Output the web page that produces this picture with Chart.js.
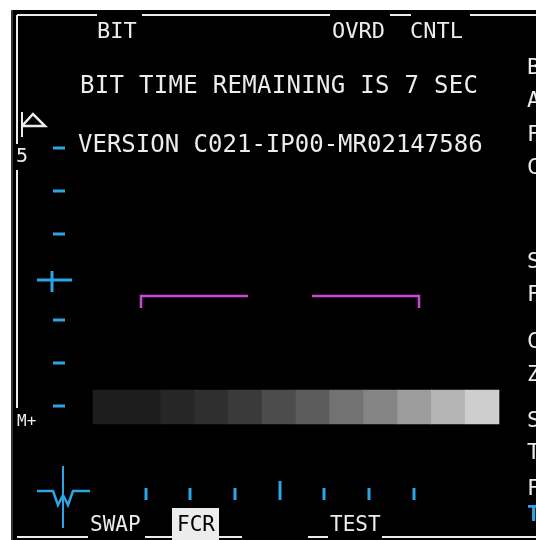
<!DOCTYPE html>
<html>
<head>
<meta charset="utf-8">
<script src="https://cdn.jsdelivr.net/npm/chart.js@4/dist/chart.umd.min.js"></script>
<style>
  html, body { margin: 0; padding: 0; background: #fff; }
  #wrap { width: 536px; height: 540px; }
</style>
</head>
<body>
<div id="wrap"><canvas id="mfd" width="536" height="540"></canvas></div>
<script>
// FCR BIT page of the MFD, in display units (x 0..536, y 0..540 downwards)
const topLabels = ["BIT", "OVRD", "CNTL"];
const topLabelX = [97, 332, 410];
const bottomLabels = ["SWAP", "FCR", "TEST"];
const bottomLabelX = [90, 177, 330];
const messages = ["BIT TIME REMAINING IS 7 SEC", "VERSION C021-IP00-MR02147586"];
const messageX = [80, 78];
const messageY = [87, 146];
const rightLetters = ["B", "A", "F", "C", "S", "F", "C", "Z", "S", "T", "F", "T"];
const rightLetterY = [68, 101, 135, 168, 262, 295, 342, 375, 421, 453, 489, 515];
const scaleLabels = ["5", "M+"];
const scaleLabelY = [157, 422];

// gray scale test pattern, 12 steps
const grayLevels = [29, 29, 38, 47, 58, 76, 92, 114, 133, 156, 180, 206];
const grayStart = 93, grayEnd = 499, grayTop = 390, grayBottom = 424;

// blue marks
const elevTicksY = [148, 191, 234, 320, 363, 406];
const rangeTicksX = [146, 190, 235, 280, 324, 369, 414];
const rangeTickTall = [0, 0, 0, 1, 0, 0, 0];

// white frame pieces
const frameTop = [[17, 97], [142, 330], [390, 411], [470, 536]];
const frameBottom = [[17, 88], [145, 242], [308, 328], [382, 536]];
const frameLeft = [[15, 144], [170, 408]];

const WHITE = "#ececec";
const BLUE = "rgb(45,165,228)";
const MAGENTA = "rgb(205,70,215)";
const MONO = '"DejaVu Sans Mono", "Liberation Mono", monospace';

function line(points, color, width) {
  return {
    type: "line",
    data: points.map(p => ({ x: p[0], y: p[1] })),
    borderColor: color,
    borderWidth: width,
    pointRadius: 0,
    fill: false,
    tension: 0,
    borderCapStyle: "butt"
  };
}

const datasets = [];

frameTop.forEach(s => datasets.push(line([[s[0], 15], [s[1], 15]], WHITE, 2)));
frameBottom.forEach(s => datasets.push(line([[s[0], 537], [s[1], 537]], WHITE, 2)));
frameLeft.forEach(s => datasets.push(line([[17, s[0]], [17, s[1]]], WHITE, 2)));

// triangle marker at top of scale
datasets.push(line([[22, 126], [33, 114], [45, 126], [22, 126]], WHITE, 2.5));
datasets.push(line([[22, 112], [22, 137]], WHITE, 2));

// elevation scale
elevTicksY.forEach(y => datasets.push(line([[53, y], [65, y]], BLUE, 3)));
datasets.push(line([[37, 280], [72, 280]], BLUE, 3));
datasets.push(line([[52, 271], [52, 292]], BLUE, 3));

// range ticks
rangeTicksX.forEach((x, i) => datasets.push(line([[x, rangeTickTall[i] ? 481 : 488], [x, 500]], BLUE, 3)));

// ownship symbol
datasets.push(line([[37, 491], [53, 491], [58, 505], [63, 495], [68, 505], [73, 491], [90, 491]], BLUE, 2.5));
datasets.push(line([[63, 466], [63, 528]], BLUE, 2));

// cursor brackets
datasets.push(line([[141, 308], [141, 296], [248, 296]], MAGENTA, 2.5));
datasets.push(line([[312, 296], [419, 296], [419, 308]], MAGENTA, 2.5));

// gray bar
const step = (grayEnd - grayStart) / grayLevels.length;
datasets.push({
  type: "bar",
  data: grayLevels.map((g, i) => ({ x: grayStart + step * (i + 0.5), y: [grayTop, grayBottom] })),
  backgroundColor: grayLevels.map(g => `rgb(${g},${g},${g})`),
  borderWidth: 0,
  barPercentage: 1,
  categoryPercentage: 1
});

const panelPlugin = {
  id: "panel",
  beforeDraw(chart) {
    const { ctx, scales: { x, y } } = chart;
    ctx.save();
    ctx.fillStyle = "#fff";
    ctx.fillRect(0, 0, chart.width, chart.height);
    ctx.fillStyle = "#000";
    ctx.fillRect(x.getPixelForValue(11), y.getPixelForValue(10), x.getPixelForValue(536) - x.getPixelForValue(11), y.getPixelForValue(540) - y.getPixelForValue(10));
    ctx.fillStyle = "#333";
    ctx.fillRect(x.getPixelForValue(11), y.getPixelForValue(10), 2, chart.height);
    ctx.restore();
  },
  afterDatasetsDraw(chart) {
    const { ctx, scales: { x, y } } = chart;
    const px = v => x.getPixelForValue(v);
    const py = v => y.getPixelForValue(v);
    ctx.save();
    ctx.textBaseline = "middle";
    ctx.textAlign = "left";
    ctx.fillStyle = WHITE;

    ctx.font = "22px " + MONO;
    topLabels.forEach((t, i) => ctx.fillText(t, px(topLabelX[i]), py(32)));

    // FCR is the selected format: boxed
    ctx.font = "21px " + MONO;
    ctx.fillStyle = WHITE;
    ctx.fillRect(px(172), py(508), px(219) - px(172), py(540) - py(508));
    bottomLabels.forEach((t, i) => {
      ctx.fillStyle = t === "FCR" ? "#000" : WHITE;
      ctx.fillText(t, px(bottomLabelX[i]), py(526));
    });

    ctx.fillStyle = WHITE;
    ctx.font = "24px " + MONO;
    messages.forEach((t, i) => {
      ctx.letterSpacing = i === 0 ? "0.3px" : "0px";
      ctx.fillText(t, px(messageX[i]), py(messageY[i]));
    });
    ctx.letterSpacing = "0px";

    rightLetters.forEach((t, i) => {
      const last = i === rightLetters.length - 1;
      ctx.fillStyle = last ? BLUE : WHITE;
      ctx.font = (last ? "bold " : "") + "22px " + MONO;
      ctx.fillText(t, px(527), py(rightLetterY[i]));
    });

    ctx.fillStyle = WHITE;
    ctx.font = "20px " + MONO;
    ctx.fillText(scaleLabels[0], px(16), py(scaleLabelY[0]));
    ctx.font = "16px " + MONO;
    ctx.fillText(scaleLabels[1], px(17), py(scaleLabelY[1]));
    ctx.restore();
  }
};

new Chart(document.getElementById("mfd"), {
  type: "scatter",
  data: { datasets },
  options: {
    responsive: false,
    animation: false,
    events: [],
    layout: { padding: 0 },
    plugins: { legend: { display: false }, tooltip: { enabled: false } },
    scales: {
      x: { type: "linear", min: 0, max: 536, display: false, offset: false },
      y: { type: "linear", min: 0, max: 540, reverse: true, display: false }
    }
  },
  plugins: [panelPlugin]
});
</script>
</body>
</html>
